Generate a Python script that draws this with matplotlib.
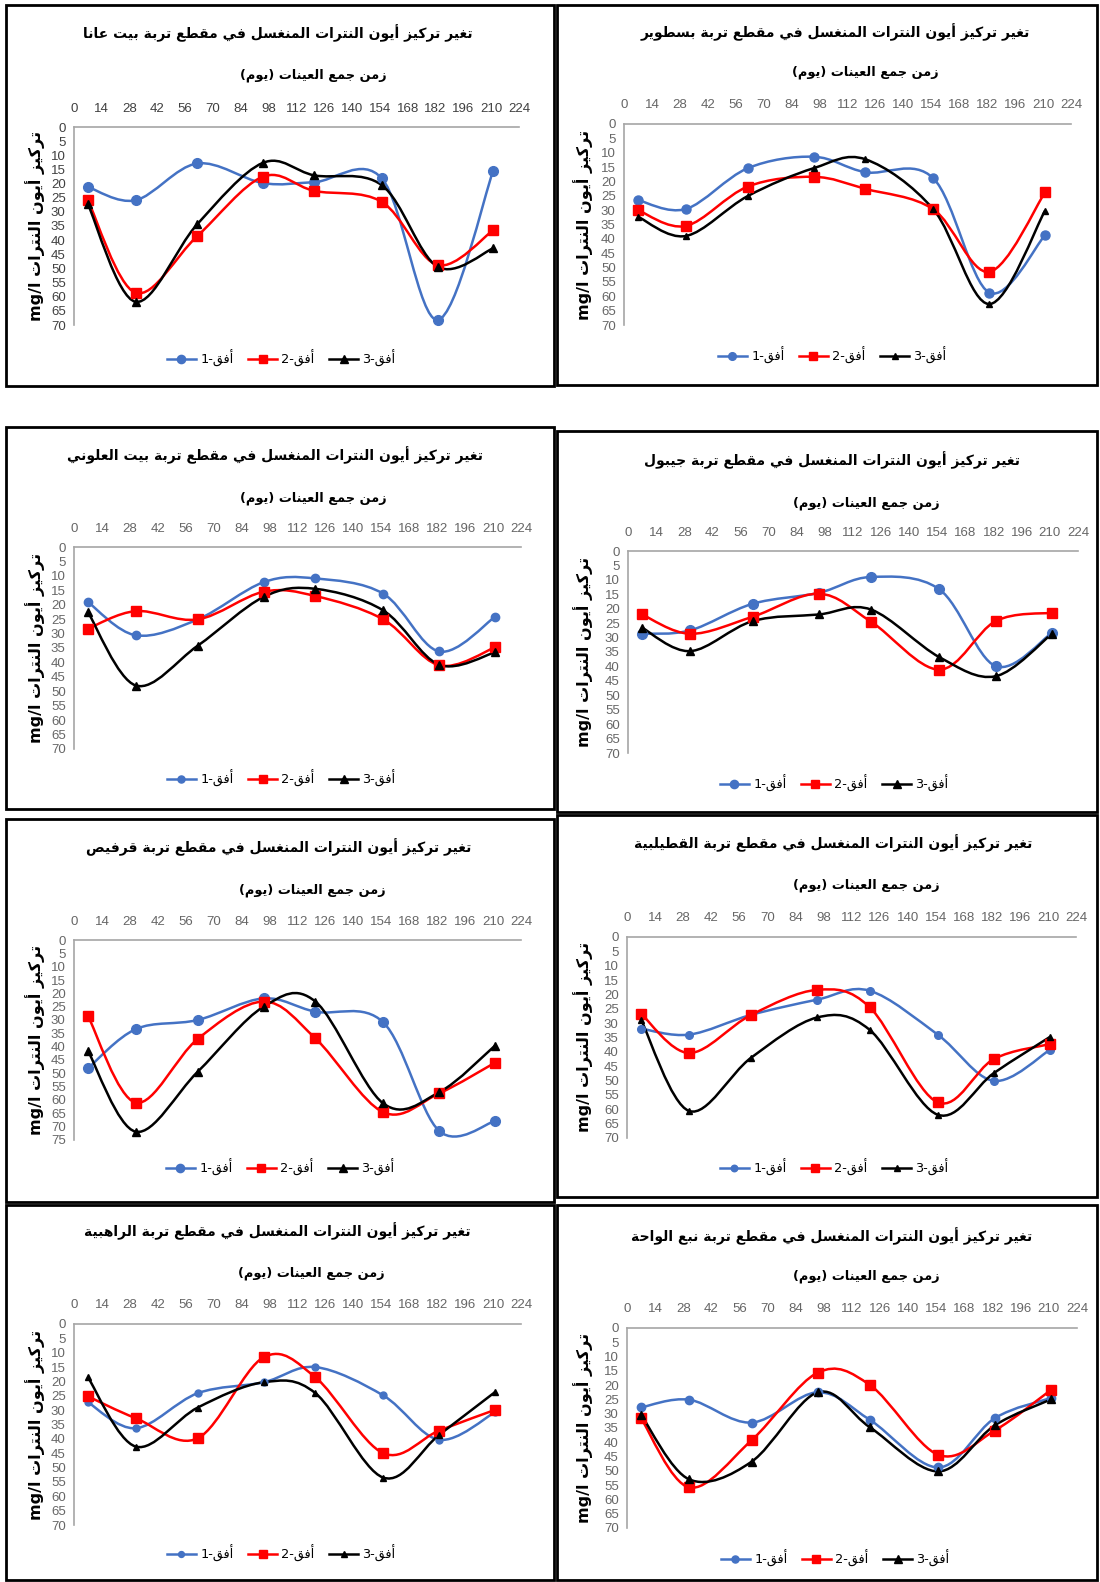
import numpy as np
import matplotlib
matplotlib.use('Agg')
import matplotlib.pyplot as plt
from matplotlib.path import Path
from matplotlib.patches import PathPatch, Rectangle
from matplotlib.lines import Line2D

# ---------------- data ----------------
days = [7, 31, 62, 95, 121, 155, 183, 211]
x_ticks = list(range(0, 225, 14))
series_labels = ['أفق-1', 'أفق-2', 'أفق-3']
sites = ['بيت عانا', 'بسطوير', 'بيت العلوني', 'جيبول',
         'قرفيص', 'القطيلبية', 'الراهبية', 'نبع الواحة']

beit_ana_h1 = [21.2, 25.9, 12.9, 19.8, 19.5, 18.2, 68.2, 15.5]
beit_ana_h2 = [25.9, 58.6, 38.6, 17.6, 22.6, 26.5, 48.8, 36.5]
beit_ana_h3 = [27.3, 61.8, 34.4, 12.7, 17.1, 20.6, 49.4, 42.9]

bastwir_h1 = [26.5, 29.6, 15.4, 11.4, 16.8, 18.9, 58.7, 38.7]
bastwir_h2 = [30.0, 35.5, 21.8, 18.4, 22.6, 29.7, 51.5, 23.8]
bastwir_h3 = [32.3, 39.0, 25.1, 15.4, 12.3, 29.7, 62.7, 30.2]

beit_alouni_h1 = [19.1, 30.6, 25.1, 12.2, 10.9, 16.2, 36.2, 24.2]
beit_alouni_h2 = [28.3, 22.2, 25.1, 15.5, 17.0, 25.1, 41.0, 34.8]
beit_alouni_h3 = [22.6, 48.0, 34.2, 17.3, 14.5, 22.0, 40.8, 36.5]

jaiboul_h1 = [28.7, 27.5, 18.3, 14.5, 9.0, 13.3, 39.9, 28.4]
jaiboul_h2 = [22.0, 28.7, 22.8, 14.8, 24.5, 41.1, 24.3, 21.4]
jaiboul_h3 = [26.6, 34.7, 24.3, 22.0, 20.3, 36.8, 43.4, 28.7]

qarfis_h1 = [48.1, 33.4, 30.0, 21.9, 26.9, 30.9, 71.6, 67.9]
qarfis_h2 = [28.5, 61.0, 37.1, 23.1, 36.9, 64.6, 57.5, 46.0]
qarfis_h3 = [41.6, 71.9, 49.4, 25.0, 23.1, 61.3, 57.1, 39.6]

qutailbiya_h1 = [31.9, 34.0, 27.1, 21.8, 18.7, 34.0, 50.1, 39.3]
qutailbiya_h2 = [26.7, 40.4, 27.1, 18.4, 24.4, 57.6, 42.5, 37.3]
qutailbiya_h3 = [28.8, 60.6, 42.0, 28.0, 32.3, 61.9, 47.4, 34.8]

rahbiya_h1 = [27.3, 36.3, 24.1, 20.3, 15.0, 24.9, 40.3, 30.7]
rahbiya_h2 = [25.2, 32.8, 39.8, 11.6, 18.6, 45.0, 37.1, 29.9]
rahbiya_h3 = [18.6, 42.7, 29.1, 20.3, 24.1, 53.5, 38.6, 23.7]

nabaa_h1 = [27.8, 25.1, 33.1, 22.5, 32.2, 48.8, 31.6, 24.5]
nabaa_h2 = [31.6, 55.8, 39.3, 15.6, 20.0, 44.4, 35.9, 21.7]
nabaa_h3 = [30.4, 53.0, 46.8, 22.5, 34.8, 50.2, 34.1, 25.0]

panel_series = [
    (beit_ana_h1, beit_ana_h2, beit_ana_h3),
    (bastwir_h1, bastwir_h2, bastwir_h3),
    (beit_alouni_h1, beit_alouni_h2, beit_alouni_h3),
    (jaiboul_h1, jaiboul_h2, jaiboul_h3),
    (qarfis_h1, qarfis_h2, qarfis_h3),
    (qutailbiya_h1, qutailbiya_h2, qutailbiya_h3),
    (rahbiya_h1, rahbiya_h2, rahbiya_h3),
    (nabaa_h1, nabaa_h2, nabaa_h3),
]
y_max = [70, 70, 70, 70, 75, 70, 70, 70]

# ---------------- Arabic shaping (visual order) ----------------
FORMS = {
    '\u0627': (0xFE8D, 2), '\u0623': (0xFE83, 2), '\u0628': (0xFE8F, 4),
    '\u0629': (0xFE93, 2), '\u062A': (0xFE95, 4), '\u062C': (0xFE9D, 4),
    '\u062D': (0xFEA1, 4), '\u062F': (0xFEA9, 2), '\u0631': (0xFEAD, 2),
    '\u0632': (0xFEAF, 2), '\u0633': (0xFEB1, 4), '\u0635': (0xFEB9, 4),
    '\u0637': (0xFEC1, 4), '\u0639': (0xFEC9, 4), '\u063A': (0xFECD, 4),
    '\u0641': (0xFED1, 4), '\u0642': (0xFED5, 4), '\u0643': (0xFED9, 4),
    '\u0644': (0xFEDD, 4), '\u0645': (0xFEE1, 4), '\u0646': (0xFEE5, 4),
    '\u0647': (0xFEE9, 4), '\u0648': (0xFEED, 2), '\u064A': (0xFEF1, 4),
}


def _jt(u):
    if isinstance(u, tuple):
        return 2
    return FORMS[u][1] if u in FORMS else 0


def shape(s):
    units, i = [], 0
    while i < len(s):
        c = s[i]
        if c == '\u0644' and i + 1 < len(s) and s[i + 1] in ('\u0627', '\u0623'):
            units.append(('LA', s[i + 1]))
            i += 2
        else:
            units.append(c)
            i += 1
    out = []
    for k, u in enumerate(units):
        prev = units[k - 1] if k > 0 else None
        nxt = units[k + 1] if k + 1 < len(units) else None
        jp = prev is not None and _jt(prev) == 4 and _jt(u) > 0
        if isinstance(u, tuple):
            base = 0xFEFB if u[1] == '\u0627' else 0xFEF7
            out.append(chr(base + (1 if jp else 0)))
            continue
        if u not in FORMS:
            out.append(u)
            continue
        b, t = FORMS[u]
        jn = t == 4 and nxt is not None and _jt(nxt) > 0
        f = 3 if (jp and jn) else 1 if jp else 2 if jn else 0
        out.append(chr(b + f))
    return ''.join(out)


def ar(s):
    v = shape(s)[::-1]
    return v.translate(str.maketrans({'(': ')', ')': '('}))


def ar_label(s):
    word, num = s.split('-')
    return num + '-' + ar(word)


# ---------------- layout (pixels) ----------------
W, H = 1100, 1582
boxes = [(6, 5, 554, 386), (557, 5, 1097, 385),
         (6, 427, 554, 809), (557, 431, 1097, 812),
         (6, 819, 554, 1202), (557, 815, 1097, 1197),
         (6, 1205, 554, 1580), (557, 1205, 1097, 1580)]
axes_px = [(74, 519, 127, 325), (624, 1071, 124, 325),
           (74, 521, 547, 749), (628, 1078, 551, 753),
           (74, 521, 940, 1140), (627, 1076, 937, 1138),
           (74, 521, 1324, 1525), (627, 1077, 1328, 1528)]
title_pos = [(278, 33), (835, 32), (275, 455), (832, 460),
             (279, 847), (833, 843), (277, 1231), (832, 1236)]
sub_pos = [(313, 75), (865, 72), (313, 498), (866, 503),
           (312, 890), (866, 885), (311, 1273), (866, 1276)]
legend_pos = [(281, 358), (832, 355), (281, 778), (834, 783),
              (280, 1167), (834, 1167), (281, 1553), (835, 1558)]
ylabel_x = [35, 583, 35, 583, 35, 583, 35, 583]

colors = ['#4472C4', '#FF0000', '#000000']
markers = ['o', 's', '^']
msizes = [(7, 7, 6), (6.5, 7, 4.5), (6, 7, 6), (7, 7, 6),
          (7, 7, 6), (5.5, 7, 4.5), (5, 7, 4.5), (6, 7, 6)]

plt.rcParams['font.family'] = ['DejaVu Sans']

fig = plt.figure(figsize=(W / 100, H / 100), dpi=100)


def fxy(x, y):
    return x / W, 1 - y / H


def smooth_path(xs, ys):
    pts = np.column_stack([xs, ys]).astype(float)
    P = np.vstack([pts[0], pts, pts[-1]])
    verts = [pts[0]]
    codes = [Path.MOVETO]
    for i in range(len(pts) - 1):
        p0, p1, p2, p3 = P[i], P[i + 1], P[i + 2], P[i + 3]
        c1 = p1 + (p2 - p0) / 6.0
        c2 = p2 - (p3 - p1) / 6.0
        verts += [c1, c2, p2]
        codes += [Path.CURVE4] * 3
    return Path(verts, codes)


for p in range(8):
    bx0, by0, bx1, by1 = boxes[p]
    fig.add_artist(Rectangle(fxy(bx0, by1), (bx1 - bx0) / W, (by1 - by0) / H,
                             transform=fig.transFigure, fill=False,
                             edgecolor='black', linewidth=2.0))
    x0, x1, y0, y1 = axes_px[p]
    ax = fig.add_axes([x0 / W, 1 - y1 / H, (x1 - x0) / W, (y1 - y0) / H])
    ax.set_facecolor('none')
    ax.set_xlim(0, 224)
    ax.set_ylim(y_max[p], 0)
    ax.xaxis.tick_top()
    ax.set_xticks(x_ticks)
    ax.set_yticks(list(range(0, y_max[p] + 1, 5)))
    tick_col = '#404040' if p == 0 else '#666666'
    ax.tick_params(axis='x', length=0, pad=9, labelsize=9.5, labelcolor=tick_col)
    ax.tick_params(axis='y', length=0, pad=6, labelsize=9.5, labelcolor=tick_col)
    for lab in ax.get_xticklabels() + ax.get_yticklabels():
        lab.set_family('Liberation Sans')
    for s in ['bottom', 'right']:
        ax.spines[s].set_visible(False)
    for s in ['top', 'left']:
        ax.spines[s].set_color('#A6A6A6')
        ax.spines[s].set_linewidth(1.2)

    handles = []
    for k, ys in enumerate(panel_series[p]):
        ms = msizes[p][k]
        ax.add_patch(PathPatch(smooth_path(days, ys), fill=False,
                               edgecolor=colors[k], linewidth=1.8, zorder=3))
        ax.plot(days, ys, linestyle='none', marker=markers[k], markersize=ms,
                color=colors[k], zorder=4, clip_on=False)
        handles.append(Line2D([], [], color=colors[k], linewidth=1.8,
                              marker=markers[k], markersize=ms * 0.85))

    tx, ty = fxy(*title_pos[p])
    fig.text(tx, ty, ar('تغير تركيز أيون النترات المنغسل في مقطع تربة ' + sites[p]),
             ha='center', va='center', fontsize=10, fontweight='bold')
    sx, sy = fxy(*sub_pos[p])
    fig.text(sx, sy, ar('زمن جمع العينات (يوم)'), ha='center', va='center',
             fontsize=9.3, fontweight='bold')
    lx, ly = fxy(ylabel_x[p], (y0 + y1) / 2)
    fig.text(lx, ly, 'mg/l ' + ar('تركيز أيون النترات'), ha='center', va='center',
             rotation=90, fontsize=11.5, fontweight='bold')
    gx, gy = fxy(*legend_pos[p])
    fig.legend(handles, [ar_label(s) for s in series_labels], loc='center',
               bbox_to_anchor=(gx, gy), bbox_transform=fig.transFigure, ncol=3,
               frameon=False, fontsize=9.3, handlelength=2.3, columnspacing=1.1,
               handletextpad=0.3)

fig.savefig('out.png', dpi=100, facecolor='white')
